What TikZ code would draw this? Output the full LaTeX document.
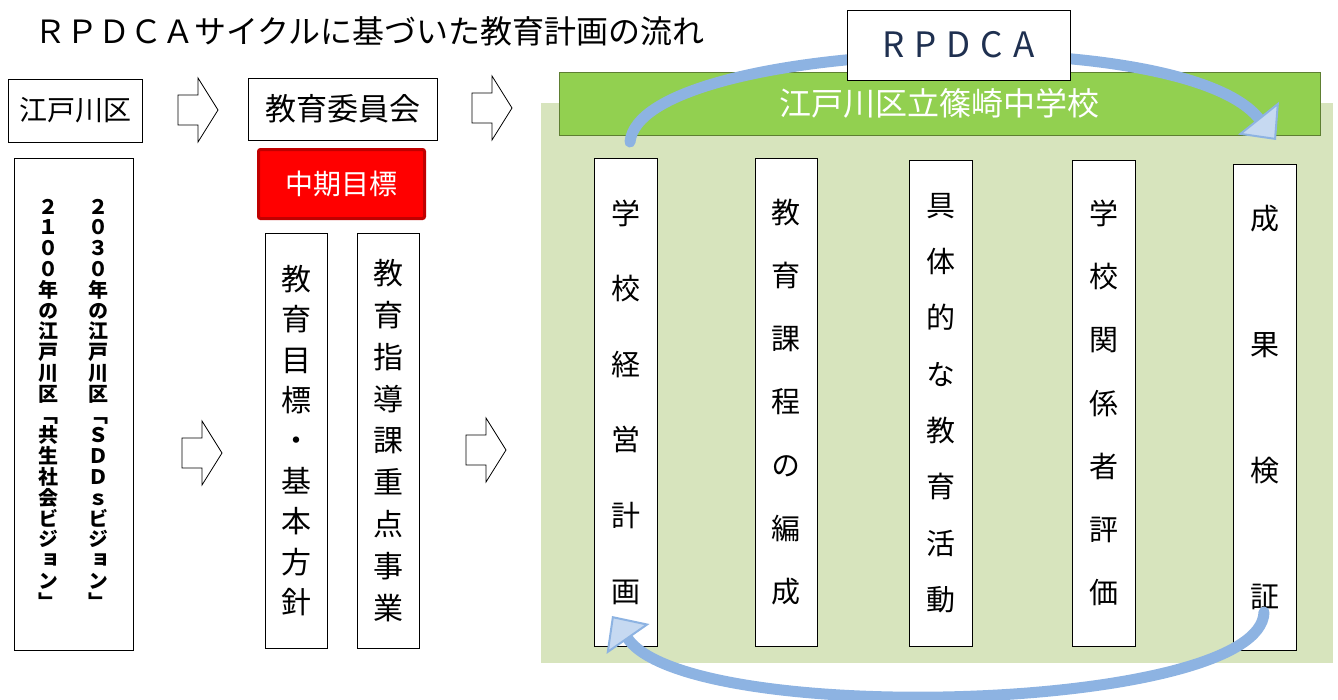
\documentclass[tikz,border=0pt]{standalone}
\usepackage{fontspec}
\usepackage{tikz}
\newfontfamily\jpfont{Noto Sans CJK JP}
\newfontfamily\tatefont[RawFeature=+vert]{Noto Sans CJK JP}
\newcommand{\jpsize}[1]% font size
{\jpfont\fontsize{#1}{#1}\selectfont}
\newcommand{\tatesize}[2]% font size, char pitch
{\tatefont\fontsize{#1}{#2}\selectfont}
\newcommand{\fwdarrow}[2]% tail x, mid y
{(#1,#2-15) -- (#1+20,#2-15) -- (#1+20,#2-32) -- (#1+40,#2) -- (#1+20,#2+32) -- (#1+20,#2+15) -- (#1,#2+15) -- cycle
}
\definecolor{bggreen}{HTML}{D7E4BD}
\definecolor{bargreen}{HTML}{92D050}
\definecolor{barline}{HTML}{5E7F32}
\definecolor{arcblue}{HTML}{8DB3E2}
\definecolor{arclight}{HTML}{C6D9F1}
\definecolor{boxred}{HTML}{FF0000}
\definecolor{darkred}{HTML}{C00000}
\definecolor{rpdcanavy}{HTML}{1F3050}
\usetikzlibrary{arrows.meta}
\usetikzlibrary{positioning}

\begin{document}
\begin{tikzpicture}[x=1pt,y=-1pt,
	box/.style={draw, line width=0.8pt, fill=white, inner sep=0pt},
	tatetext/.style={align=center, text width=44pt, inner sep=0pt},
	tatebox/.style={box, tatetext},
	cyclearc/.style={draw=arcblue, line width=11pt, line cap=round,
		-{Triangle[length=28pt, width=52pt, fill=arclight, line width=2pt]}}]
	\useasboundingbox (0,0) rectangle (1338,699);
	% title
	\node[anchor=west, inner sep=0pt, font=\jpsize{32}] (title) at (34,31) {ＲＰＤＣＡサイクルに基づいた教育計画の流れ};
	% ward
	\node[box, minimum width=134pt, minimum height=63pt, font=\jpsize{28}] (ward) at (75,110.5) {江戸川区};
	\node[box, minimum width=119pt, minimum height=492pt] (vision) at (73.5,404) {};
	\node[tatetext, font=\tatesize{20}{20.8}\bfseries, xshift=25pt] (vision2030) at (vision) {２\\０\\３\\０\\年\\の\\江\\戸\\川\\区\\﹁\\Ｓ\\Ｄ\\Ｄ\\ｓ\\ビ\\ジ\\ョ\\ン\\﹂};
	\node[tatetext, font=\tatesize{20}{20.8}\bfseries, xshift=-25pt] (vision2100) at (vision) {２\\１\\０\\０\\年\\の\\江\\戸\\川\\区\\﹁\\共\\生\\社\\会\\ビ\\ジ\\ョ\\ン\\﹂};
	\draw[line width=0.8pt] \fwdarrow{178}{110};
	\draw[line width=0.8pt] \fwdarrow{182}{453};
	% board of education
	\node[box, minimum width=189pt, minimum height=62pt, font=\jpsize{31}] (board) at (342.5,109) {教育委員会};
	\node[draw=darkred, fill=boxred, line width=3pt, rounded corners=2pt, minimum width=166pt, minimum height=69pt, text=white, font=\jpsize{28}] (midterm) at (341.5,184) {中期目標};
	\node[tatebox, minimum width=62pt, minimum height=415pt, font=\tatesize{30}{40.4}] (goals) at (296,440.5) {教\\育\\目\\標\\・\\基\\本\\方\\針};
	\node[tatebox, minimum width=62pt, minimum height=415pt, font=\tatesize{30}{41.9}, right=30pt of goals] (priorities) {教\\育\\指\\導\\課\\重\\点\\事\\業};
	\draw[line width=0.8pt] \fwdarrow{472}{108};
	\draw[line width=0.8pt] \fwdarrow{466}{450};
	% school
	\fill[bggreen] (541,103) rectangle (1333,663);
	\node[draw=barline, fill=bargreen, line width=0.8pt, minimum width=761pt, minimum height=63pt, text=white, font=\jpsize{32}] (school) at (939.5,103.5) {江戸川区立篠崎中学校};
	\node[tatebox, minimum width=63pt, minimum height=488pt, font=\tatesize{29}{75.6}] (mgmt) at (625.5,402) {学\\校\\経\\営\\計\\画};
	\node[tatebox, minimum width=62pt, minimum height=488pt, font=\tatesize{29}{63.3}] (curric) at (786,402) {教\\育\\課\\程\\の\\編\\成};
	\node[tatebox, minimum width=63pt, minimum height=486pt, font=\tatesize{29}{56.3}] (activity) at (940.5,403) {具\\体\\的\\な\\教\\育\\活\\動};
	\node[tatebox, minimum width=63pt, minimum height=486pt, font=\tatesize{29}{63.2}] (review) at (1103.5,403) {学\\校\\関\\係\\者\\評\\価};
	\node[tatebox, minimum width=63pt, minimum height=486pt, font=\tatesize{29}{126}] (verify) at (1264.5,407) {成\\果\\検\\証};
	% cycle
	\coordinate (topstart) at (630,142);
	\coordinate (topend) at (1276,140);
	\coordinate (lowstart) at (1264,612);
	\coordinate (lowend) at (612,616);
	\draw[cyclearc] (topstart) .. controls (640,40) and (1180,20) .. (topend);
	\draw[cyclearc] (lowstart) .. controls (1262,712) and (690,728) .. (lowend);
	\node[box, line width=1pt, minimum width=223pt, minimum height=70pt, text=rpdcanavy, font=\jpsize{35}] (cycle) at (958.5,45) {R\hspace{10pt}P\hspace{10pt}D\hspace{10pt}C\hspace{10pt}A};
\end{tikzpicture}
\end{document}
